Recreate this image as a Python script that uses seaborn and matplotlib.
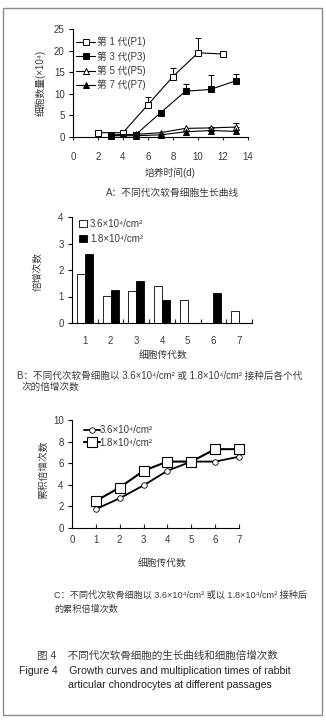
import numpy as np
import pandas as pd
import matplotlib
matplotlib.use("Agg")
import matplotlib.pyplot as plt
from matplotlib.patches import Rectangle
import seaborn as sns

# ---------------- data ----------------
# Panel A: growth curves
days_p1 = [2, 4, 6, 8, 10, 12]
p1_vals = [1.0, 1.0, 7.5, 14.0, 19.5, 19.2]
p1_err = [0, 0, 1.7, 2.0, 3.5, 0]
days_odd = [3, 5, 7, 9, 11, 13]
p3_vals = [0.5, 0.5, 5.6, 10.6, 11.0, 13.0]
p3_err = [0, 0, 0, 1.6, 3.3, 1.5]
p5_vals = [0.5, 0.6, 1.0, 2.0, 2.1, 2.3]
p5_err = [0, 0, 0, 0, 0.3, 0.9]
p7_vals = [0.3, 0.3, 0.5, 1.2, 1.5, 1.3]
p7_err = [0, 0, 0, 0, 0, 0]
growth_labels = ["第 1 代(P1)", "第 3 代(P3)", "第 5 代(P5)", "第 7 代(P7)"]
a_xticks = [0, 2, 4, 6, 8, 10, 12, 14]
a_yticks = [0, 5, 10, 15, 20, 25]

# Panel B: doubling times per passage
passages = ["1", "2", "3", "4", "5", "6", "7"]
density_labels = ["3.6×10⁴/cm²", "1.8×10⁴/cm²"]
doubling_36 = [1.85, 1.02, 1.20, 1.40, 0.88, np.nan, 0.47]
doubling_18 = [2.62, 1.25, 1.58, 0.88, np.nan, 1.15, np.nan]
b_yticks = [0, 1, 2, 3, 4]

# Panel C: cumulative doubling
cum_passage = [1, 2, 3, 4, 5, 6, 7]
cum_36 = [1.75, 2.75, 3.95, 5.30, 6.15, 6.15, 6.60]
cum_18 = [2.50, 3.75, 5.30, 6.15, 6.15, 7.30, 7.30]
c_xticks = [0, 1, 2, 3, 4, 5, 6, 7]
c_yticks = [0, 2, 4, 6, 8, 10]

# ---------------- style ----------------
sns.set_theme(style="ticks")
FAM = ["Liberation Sans", "DejaVu Sans", "Noto Sans CJK SC"]
plt.rcParams["font.family"] = FAM
plt.rcParams["axes.unicode_minus"] = False
TXT = "#3a3a3a"
FS = 7

W, H = 326, 725
fig = plt.figure(figsize=(W / 100, H / 100), dpi=100)
fig.patch.set_facecolor("white")

def ax_rect(l, r, t, b):
    return [l / W, 1 - b / H, (r - l) / W, (b - t) / H]

def style_axes(ax):
    sns.despine(ax=ax)
    for s in ["left", "bottom"]:
        ax.spines[s].set_linewidth(0.8)
        ax.spines[s].set_color("black")
    ax.tick_params(axis="y", direction="out", length=3, width=0.8, pad=3,
                   labelsize=FS, labelcolor=TXT, color="black")
    ax.set_facecolor("white")

# border
fig.add_artist(Rectangle((3 / W, 1 - 715 / H), 319 / W, 707 / H,
                         transform=fig.transFigure, fill=False,
                         edgecolor="#8a8a8a", linewidth=1.0))

# ---------------- Panel A ----------------
axA = fig.add_axes(ax_rect(73, 248, 29, 137))
dfA = pd.concat([
    pd.DataFrame({"day": days_p1, "count": p1_vals, "err": p1_err, "series": growth_labels[0]}),
    pd.DataFrame({"day": days_odd, "count": p3_vals, "err": p3_err, "series": growth_labels[1]}),
    pd.DataFrame({"day": days_odd, "count": p5_vals, "err": p5_err, "series": growth_labels[2]}),
    pd.DataFrame({"day": days_odd, "count": p7_vals, "err": p7_err, "series": growth_labels[3]}),
])
marker_specs = {
    growth_labels[0]: dict(marker="s", mfc="white", ms=5.0),
    growth_labels[1]: dict(marker="s", mfc="black", ms=4.5),
    growth_labels[2]: dict(marker="^", mfc="white", ms=4.5),
    growth_labels[3]: dict(marker="^", mfc="black", ms=4.5),
}
for lab in growth_labels:
    sub = dfA[dfA["series"] == lab]
    nz = sub[sub["err"] > 0]
    if len(nz):
        axA.errorbar(nz["day"], nz["count"], yerr=[np.zeros(len(nz)), nz["err"]],
                     fmt="none", ecolor="black", elinewidth=0.7, capsize=2.2,
                     capthick=0.7, zorder=2)
    spec = marker_specs[lab]
    sns.lineplot(data=sub, x="day", y="count", ax=axA, color="black", lw=0.8,
                 marker=spec["marker"], markerfacecolor=spec["mfc"],
                 markeredgecolor="black", markeredgewidth=0.7, markersize=spec["ms"],
                 label=lab, zorder=3, clip_on=False)
axA.set_xlim(0, 14)
axA.set_ylim(0, 25)
axA.set_xticks(a_xticks)
axA.set_yticks(a_yticks)
style_axes(axA)
axA.tick_params(axis="x", direction="out", length=2.5, width=0.8, pad=8,
                labelsize=FS, labelcolor=TXT)
axA.set_xlabel("")
axA.set_ylabel("")
legA = axA.legend(loc="upper left", bbox_to_anchor=(-0.005, 0.965), frameon=False,
                  fontsize=FS, handlelength=2.0, handletextpad=0.2,
                  labelspacing=0.38, borderaxespad=0)
for t in legA.get_texts():
    t.set_color(TXT)

# ---------------- Panel B ----------------
axB = fig.add_axes(ax_rect(72, 252, 217, 323))
dfB = pd.concat([
    pd.DataFrame({"passage": passages, "value": doubling_36, "density": density_labels[0]}),
    pd.DataFrame({"passage": passages, "value": doubling_18, "density": density_labels[1]}),
]).dropna()
sns.barplot(data=dfB, x="passage", y="value", hue="density", order=passages,
            hue_order=density_labels, palette=["white", "black"], edgecolor="black",
            linewidth=0.6, width=0.62, errorbar=None, ax=axB, saturation=1)
axB.set_xlim(-0.5, 6.5)
axB.set_ylim(0, 4)
axB.set_yticks(b_yticks)
style_axes(axB)
axB.set_xticks(np.arange(0.5, 6.6, 1.0))
axB.set_xticklabels([])
axB.set_xticks(np.arange(0, 7), minor=True)
axB.set_xticklabels(passages, minor=True)
axB.tick_params(axis="x", which="major", direction="in", length=3, width=0.8)
axB.tick_params(axis="x", which="minor", length=0, pad=9, labelsize=FS, labelcolor=TXT)
axB.set_xlabel("")
axB.set_ylabel("")
legB = axB.legend(loc="upper left", bbox_to_anchor=(0.02, 1.02), frameon=False,
                  fontsize=FS, handlelength=0.8, handleheight=0.8,
                  handletextpad=0.3, labelspacing=0.5, borderaxespad=0)
for t in legB.get_texts():
    t.set_color(TXT)

# ---------------- Panel C ----------------
axC = fig.add_axes(ax_rect(72, 239, 420, 528))
dfC36 = pd.DataFrame({"passage": cum_passage, "cum": cum_36})
dfC18 = pd.DataFrame({"passage": cum_passage, "cum": cum_18})
sns.lineplot(data=dfC36, x="passage", y="cum", ax=axC, color="black", lw=1.3,
             marker="o", markerfacecolor="white", markeredgecolor="black",
             markeredgewidth=0.6, markersize=4.0, label=density_labels[0], zorder=3,
             clip_on=False)
sns.lineplot(data=dfC18, x="passage", y="cum", ax=axC, color="black", lw=1.5,
             marker="s", markerfacecolor="white", markeredgecolor="black",
             markeredgewidth=0.8, markersize=6.5, label=density_labels[1], zorder=4,
             clip_on=False)
axC.set_xlim(0, 7)
axC.set_ylim(0, 10)
axC.set_xticks(c_xticks)
axC.set_yticks(c_yticks)
style_axes(axC)
axC.tick_params(axis="x", direction="in", length=3, width=0.8, pad=5,
                labelsize=FS, labelcolor=TXT)
axC.set_xlabel("")
axC.set_ylabel("")
legC = axC.legend(loc="upper left", bbox_to_anchor=(0.05, 0.99), frameon=False,
                  fontsize=FS, handlelength=1.6, handletextpad=0.0,
                  labelspacing=0.3, borderaxespad=0)
for t in legC.get_texts():
    t.set_color(TXT)

# ---------------- texts ----------------
def ftext(x, y, s, ha="center", va="center", rot=0, size=FS, color=TXT):
    fig.text(x / W, 1 - y / H, s, ha=ha, va=va, rotation=rot, fontsize=size,
             color=color, family=FAM)

# axis labels
ftext(40, 83, "细胞数量(×10⁴)", rot=90)
ftext(170, 173, "培养时间(d)")
ftext(38, 272, "倍增次数", rot=90)
ftext(163, 355, "细胞传代数")
ftext(43, 470, "累积倍增次数", rot=90)
ftext(162, 563, "细胞传代数")

# captions
ftext(173, 193, "A：不同代次软骨细胞生长曲线")
ftext(17, 376, "B：不同代次软骨细胞以 3.6×10⁴/cm² 或 1.8×10⁴/cm² 接种后各个代", ha="left", size=6.9)
ftext(22, 387, "次的倍增次数", ha="left", size=6.9)
ftext(54, 595, "C：不同代次软骨细胞以 3.6×10⁴/cm² 或以 1.8×10⁴/cm² 接种后", ha="left", size=6.6)
ftext(54, 609, "的累积倍增次数", ha="left", size=6.6)
ftext(37, 656, "图 4    不同代次软骨细胞的生长曲线和细胞倍增次数", ha="left", size=7.6)
ftext(19, 671, "Figure 4    Growth curves and multiplication times of rabbit", ha="left", size=7.6, color="#222222")
ftext(68, 685, "articular chondrocytes at different passages", ha="left", size=7.6, color="#222222")

fig.savefig("out.png", dpi=100, facecolor="white")
